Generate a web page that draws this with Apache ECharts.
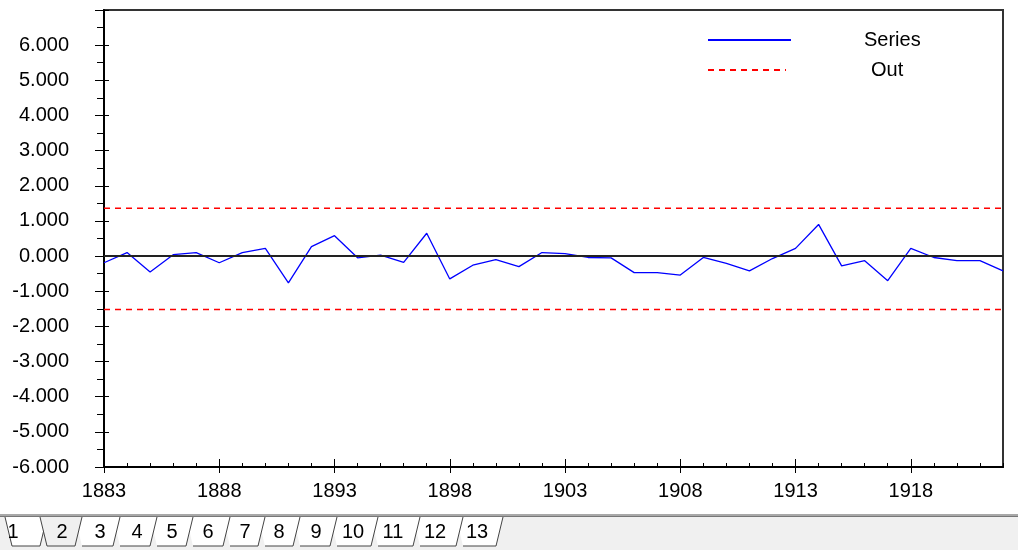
<!DOCTYPE html>
<html><head><meta charset="utf-8">
<script src="https://cdn.jsdelivr.net/npm/echarts@6/dist/echarts.min.js"></script>
<style>html,body{margin:0;padding:0;background:#fff;}#c{width:1018px;height:550px;}</style>
</head><body><div id="c"></div>
<script>
const years = [1883,1884,1885,1886,1887,1888,1889,1890,1891,1892,1893,1894,1895,1896,1897,1898,1899,1900,1901,1902,1903,1904,1905,1906,1907,1908,1909,1910,1911,1912,1913,1914,1915,1916,1917,1918,1919,1920,1921,1922];
const seriesValues = [-0.19,0.10,-0.45,0.04,0.10,-0.19,0.10,0.22,-0.76,0.27,0.58,-0.05,0.03,-0.18,0.65,-0.65,-0.26,-0.10,-0.30,0.10,0.07,-0.04,-0.05,-0.47,-0.47,-0.54,-0.04,-0.21,-0.42,-0.07,0.22,0.90,-0.28,-0.13,-0.70,0.22,-0.04,-0.13,-0.13,-0.42];
const outUpper = 1.36;
const outLower = -1.52;
const xMajorTicks = [1883,1888,1893,1898,1903,1908,1913,1918];
const xMinorTicks = [1884,1885,1886,1887,1889,1890,1891,1892,1894,1895,1896,1897,1899,1900,1901,1902,1904,1905,1906,1907,1909,1910,1911,1912,1914,1915,1916,1917,1919,1920,1921,1922];
const yTicks = [-6,-5,-4,-3,-2,-1,0,1,2,3,4,5,6];
const yLabels = ['-6.000','-5.000','-4.000','-3.000','-2.000','-1.000','0.000','1.000','2.000','3.000','4.000','5.000','6.000'];
const tabLabels = ['1','2','3','4','5','6','7','8','9','10','11','12','13'];
const tabTextX = [13,62,100,137,172,208,245,279,316,353,393,435,477];
const tabRight = [47,82,120,157,193,230,265,300,337,378,420,463,503];

const FONT = 'Liberation Sans';
const chart = echarts.init(document.getElementById('c'));

const baseX = {type:'value', min:1883, max:1922, position:'bottom', splitLine:{show:false}};
const baseY = {type:'value', min:-6, max:7, interval:1, position:'left', splitLine:{show:false}};

// tab strip decoration
const tabEls = [];
tabEls.push({type:'rect', shape:{x:0,y:514,width:1018,height:36}, style:{fill:'#f0f0f0'}});
tabEls.push({type:'rect', shape:{x:0,y:514,width:1018,height:3}, style:{fill:'#a8a8a8'}});
tabEls.push({type:'line', shape:{x1:0,y1:516.5,x2:1018,y2:516.5}, style:{stroke:'#777',lineWidth:1}});
function tabPoly(i){
  const L = i===0 ? 5 : tabRight[i-1]-7;
  const R = tabRight[i];
  return [[L,517],[L+7,546],[R-7,546],[R,517]];
}
const order = [12,11,10,9,8,7,6,5,4,3,2,0,1];
order.forEach(i=>{
  const p = tabPoly(i);
  const sel = i===1;
  tabEls.push({type:'polygon', shape:{points:p}, style:{fill: sel ? '#f0f0f0' : '#ffffff', stroke:null}});
  const pts = (i===0||sel) ? p : [p[1],p[2],p[3]];
  tabEls.push({type:'polyline', shape:{points:pts}, style:{stroke:'#444',lineWidth:1,fill:null}});
  tabEls.push({type:'text', x:tabTextX[i], y:532, style:{text:tabLabels[i], fill:'#000', font:'20px "'+FONT+'"', align:'center', verticalAlign:'middle'}});
});

chart.setOption({
  animation:false,
  backgroundColor:'#fff',
  grid:{left:104, top:10, right:15, bottom:83, show:true, borderColor:'#333', borderWidth:2, backgroundColor:'#fff'},
  legend:[
    {data:['Series'], left:702, top:25, itemWidth:83, itemHeight:14, selectedMode:false,
     itemStyle:{opacity:0, borderWidth:0},
     textStyle:{fontFamily:FONT, fontSize:20, color:'#000', padding:[0,0,0,68]}},
    {data:['Out'], left:702, top:55, itemWidth:78, itemHeight:14, selectedMode:false,
     itemStyle:{opacity:0, borderWidth:0},
     textStyle:{fontFamily:FONT, fontSize:20, color:'#000', padding:[0,0,0,80]}}
  ],
  xAxis:[
    Object.assign({}, baseX, {
      axisLine:{show:true, onZero:false, lineStyle:{color:'#000', width:2}},
      axisTick:{show:true, inside:false, length:6, customValues:xMajorTicks, lineStyle:{color:'#000'}},
      axisLabel:{show:true, customValues:xMajorTicks, margin:14, fontFamily:FONT, fontSize:20, color:'#000', formatter: v => String(v)}
    }),
    Object.assign({}, baseX, {
      axisLine:{show:false, onZero:false},
      axisTick:{show:true, inside:true, length:8, customValues:xMajorTicks, lineStyle:{color:'#000'}},
      axisLabel:{show:false}
    }),
    Object.assign({}, baseX, {
      axisLine:{show:false, onZero:false},
      axisTick:{show:true, inside:true, length:4, customValues:xMinorTicks, lineStyle:{color:'#000'}},
      axisLabel:{show:false}
    })
  ],
  yAxis:[
    Object.assign({}, baseY, {
      axisLine:{show:true, onZero:false, lineStyle:{color:'#000', width:2}},
      axisTick:{show:true, inside:false, length:9, lineStyle:{color:'#000'}},
      minorTick:{show:true, splitNumber:2, length:7, lineStyle:{color:'#000'}},
      axisLabel:{show:true, margin:35, fontFamily:FONT, fontSize:20, color:'#000',
        formatter: v => { const k = yTicks.indexOf(Math.round(v)); return k<0 ? '' : yLabels[k]; }}
    }),
    Object.assign({}, baseY, {
      axisLine:{show:false, onZero:false},
      axisTick:{show:true, inside:true, length:5, lineStyle:{color:'#000'}},
      axisLabel:{show:false}
    })
  ],
  series:[
    {name:'Series', type:'line', xAxisIndex:0, yAxisIndex:0, symbol:'none',
     data: years.map((y,i)=>[y, seriesValues[i]]),
     lineStyle:{color:'#0000ff', width:1.3}, itemStyle:{color:'#0000ff'}},
    {name:'Out', type:'line', xAxisIndex:0, yAxisIndex:0, symbol:'none',
     data: [[years[0], outUpper],[years[years.length-1], outUpper]],
     lineStyle:{color:'#ff0000', width:1.5, type:[6,5]}, itemStyle:{color:'#ff0000'},
     markLine:{silent:true, symbol:['none','none'], label:{show:false},
       lineStyle:{color:'#222', width:2, type:'solid'}, data:[{yAxis:0}]}},
    {name:'Out', type:'line', xAxisIndex:0, yAxisIndex:0, symbol:'none',
     data: [[years[0], outLower],[years[years.length-1], outLower]],
     lineStyle:{color:'#ff0000', width:1.5, type:[6,5]}, itemStyle:{color:'#ff0000'}}
  ],
  graphic:{elements:tabEls}
});
</script>
</body></html>
